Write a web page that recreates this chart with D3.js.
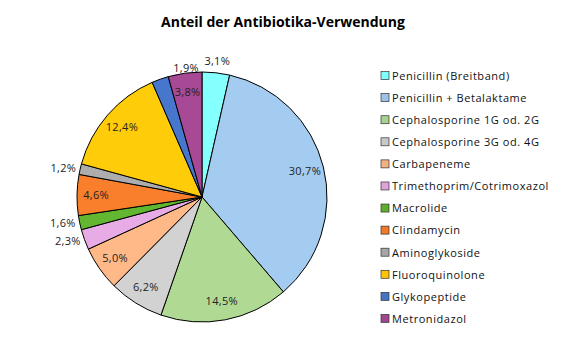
<!DOCTYPE html>
<html lang="de">
<head>
<meta charset="UTF-8">
<title>Anteil der Antibiotika-Verwendung</title>
<script src="https://cdn.jsdelivr.net/npm/d3@7"></script>
<style>
  body { margin: 0; background: #fff; }
  text { font-family: "Open Sans", "Noto Sans", sans-serif; }
</style>
</head>
<body>
<svg id="chart"></svg>
<script>
var categories = ["Penicillin (Breitband)", "Penicillin + Betalaktame", "Cephalosporine 1G od. 2G",
  "Cephalosporine 3G od. 4G", "Carbapeneme", "Trimethoprim/Cotrimoxazol", "Macrolide",
  "Clindamycin", "Aminoglykoside", "Fluoroquinolone", "Glykopeptide", "Metronidazol"]
var values = [3.1, 30.7, 14.5, 6.2, 5.0, 2.3, 1.6, 4.6, 1.2, 12.4, 1.9, 3.8]
var colors = ["#80FFFF", "#9DC3E6", "#A9D18E", "#C9C9C9", "#F4B183", "#DDA4DB", "#5EAE2E",
  "#F07A2A", "#A6A6A6", "#FFC30A", "#4472C4", "#A0468E"]

var W = 568, H = 360
var cx = 202, cy = 197, R = 125

var svg = d3.select("#chart").attr("width", W).attr("height", H)

svg.append("text")
  .attr("x", 283).attr("y", 27)
  .attr("text-anchor", "middle")
  .attr("font-size", 14).attr("font-weight", "bold")
  .text("Anteil der Antibiotika-Verwendung")

// leichte Verläufe wie im Original (Excel)
var defs = svg.append("defs")
colors.forEach(function(c, i) {
  var g = defs.append("radialGradient").attr("id", "g" + i)
    .attr("gradientUnits", "userSpaceOnUse")
    .attr("cx", cx).attr("cy", cy).attr("r", R)
  g.append("stop").attr("offset", "0%").attr("stop-color", d3.color(c).darker(0.12))
  g.append("stop").attr("offset", "100%").attr("stop-color", d3.color(c).brighter(0.12))
})

var pie = d3.pie().sort(null).value(function(d) { return d })
var arcs = pie(values)
var arc = d3.arc().innerRadius(0).outerRadius(R)

var g = svg.append("g").attr("transform", "translate(" + cx + "," + cy + ")")

g.selectAll("path")
  .data(arcs).enter()
  .append("path")
  .attr("d", arc)
  .attr("fill", function(d, i) { return "url(#g" + i + ")" })
  .attr("stroke", "#000")
  .attr("stroke-width", 1)

var fmt = function(v) { return v.toFixed(1).replace(".", ",") + "%" }

g.selectAll("text.lbl")
  .data(arcs).enter()
  .append("text")
  .attr("class", "lbl")
  .attr("font-size", 11)
  .attr("letter-spacing", 0.3)
  .attr("fill", "#222")
  .attr("dy", "0.35em")
  .each(function(d) {
    var a = (d.startAngle + d.endAngle) / 2
    var s = Math.sin(a), c = Math.cos(a)
    var el = d3.select(this)
    if (d.value < 3.5) {
      var top = Math.abs(s) < 0.4
      var rr = top ? R + 12 : R + 4
      el.attr("x", rr * s + (top && s < 0 ? 30 : 0)).attr("y", -rr * c)
        .attr("text-anchor", top ? "middle" : (s > 0 ? "start" : "end"))
    } else {
      var ri = 106
      el.attr("x", ri * s).attr("y", -ri * c).attr("text-anchor", "middle")
    }
  })
  .text(function(d) { return fmt(d.value) })

// Legende
var y = d3.scaleBand().domain(categories).range([65, 330])

var leg = svg.selectAll("g.leg")
  .data(categories).enter()
  .append("g")
  .attr("class", "leg")
  .attr("transform", function(d) { return "translate(381," + (y(d) + y.bandwidth() / 2) + ")" })

leg.append("rect")
  .attr("x", 0).attr("y", -4.5)
  .attr("width", 8).attr("height", 8)
  .attr("fill", function(d, i) { return colors[i] })
  .attr("stroke", "#333").attr("stroke-width", 0.7)

leg.append("text")
  .attr("x", 11).attr("dy", "0.35em")
  .attr("font-size", 11)
  .attr("letter-spacing", 0.55)
  .attr("fill", "#111")
  .text(function(d) { return d })
</script>
</body>
</html>
